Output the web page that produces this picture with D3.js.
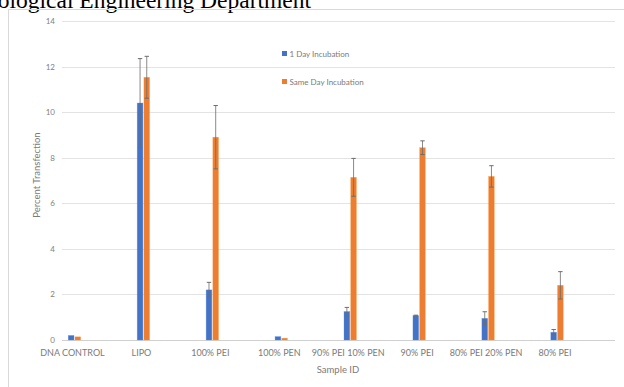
<!DOCTYPE html>
<html><head><meta charset="utf-8">
<script src="https://cdn.jsdelivr.net/npm/d3@7"></script>
<style>body{margin:0;background:#fff;overflow:hidden}svg{display:block}</style>
</head><body>
<svg id="c" width="624" height="387"></svg>
<script>
const categories = ["DNA CONTROL","LIPO","100% PEI","100% PEN","90% PEI 10% PEN","90% PEI","80% PEI 20% PEN","80% PEI"];
const seriesNames = ["1 Day Incubation","Same Day Incubation"];
const oneDay = [0.2, 10.4, 2.2, 0.15, 1.25, 1.07, 0.95, 0.34];
const oneDayErr = [0.0, 1.95, 0.33, 0.0, 0.18, 0.02, 0.29, 0.12];
const sameDay = [0.14, 11.53, 8.9, 0.08, 7.14, 8.44, 7.18, 2.4];
const sameDayErr = [0.0, 0.92, 1.39, 0.0, 0.83, 0.3, 0.47, 0.6];
const yTicks = [0,2,4,6,8,10,12,14];
const colors = ["#4472C4","#ED7D31"];

const svg = d3.select("#c");
const font = "Lato, 'Open Sans', sans-serif";

// title (cut off at top)
svg.append("text").attr("x",311).attr("y",8).attr("text-anchor","end")
  .attr("font-family","'Liberation Serif','Times New Roman',serif").attr("font-size",23.5)
  .attr("fill","#000").text("Biological Engineering Department");

// chart frame
svg.append("path").attr("d","M8.5,395V9.5H630").attr("fill","none").attr("stroke","#d9d9d9");

const y = d3.scaleLinear().domain([0,14]).range([340,21]);
const x0 = d3.scaleBand().domain(categories).range([40,591.5]);
const barW = 5.7, gap = 1;

// gridlines
svg.append("g").selectAll("line").data(yTicks).join("line")
  .attr("x1",62).attr("x2",615).attr("y1",d=>Math.round(y(d))+0.5).attr("y2",d=>Math.round(y(d))+0.5)
  .attr("stroke",d=>d===0?"#d0d0d0":"#e3e3e3").attr("stroke-width",1);

// y tick labels
svg.append("g").selectAll("text").data(yTicks).join("text")
  .attr("x",55).attr("y",d=>y(d)+3).attr("text-anchor","end")
  .attr("font-family",font).attr("font-size",8).attr("fill","#808080").text(d=>d);

// bars
const series = [
  {vals: oneDay, err: oneDayErr, off: -gap/2-barW, col: colors[0]},
  {vals: sameDay, err: sameDayErr, off: gap/2, col: colors[1]}
];
series.forEach(s=>{
  const g = svg.append("g");
  g.selectAll("rect").data(categories).join("rect")
    .attr("x",(c)=>x0(c)+x0.bandwidth()/2+s.off)
    .attr("width",barW)
    .attr("y",(c,i)=>y(s.vals[i]))
    .attr("height",(c,i)=>y(0)-y(s.vals[i]))
    .attr("fill",s.col).attr("stroke",d3.color(s.col).brighter(0.6)).attr("stroke-opacity",0.5).attr("stroke-width",0.6);
});
series.forEach(s=>{
  const g = svg.append("g").attr("stroke","#6d6d6d").attr("stroke-width",1);
  categories.forEach((c,i)=>{
    if(!s.err[i]) return;
    const cx = x0(c)+x0.bandwidth()/2+s.off+barW/2;
    const t = y(s.vals[i]+s.err[i]), b = y(s.vals[i]-s.err[i]);
    g.append("line").attr("x1",cx).attr("x2",cx).attr("y1",t).attr("y2",b).attr("stroke-opacity",0.8);
    g.append("line").attr("x1",cx-2.2).attr("x2",cx+2.2).attr("y1",t).attr("y2",t);
    g.append("line").attr("x1",cx-2.2).attr("x2",cx+2.2).attr("y1",b).attr("y2",b);
  });
});

// x labels
svg.append("g").selectAll("text").data(categories).join("text")
  .attr("x",c=>x0(c)+x0.bandwidth()/2-2).attr("y",356).attr("text-anchor","middle")
  .attr("font-family",font).attr("font-size",9).attr("fill","#7a7a7a").text(d=>d);

// axis titles
svg.append("text").attr("x",338).attr("y",373).attr("text-anchor","middle")
  .attr("font-family",font).attr("font-size",9.5).attr("fill","#7a7a7a").text("Sample ID");
svg.append("text").attr("transform","translate(40,175) rotate(-90)").attr("text-anchor","middle")
  .attr("font-family",font).attr("font-size",9.5).attr("fill","#7a7a7a").text("Percent Transfection");

// legend
const leg = svg.append("g").selectAll("g").data(seriesNames).join("g")
  .attr("transform",(d,i)=>`translate(282,${53.5+i*28})`);
leg.append("rect").attr("x",0).attr("y",-2.5).attr("width",5).attr("height",5).attr("fill",(d,i)=>colors[i]);
leg.append("text").attr("x",7.5).attr("y",3).attr("font-family",font).attr("font-size",8)
  .attr("fill","#7a7a7a").text(d=>d);
</script>
</body></html>
